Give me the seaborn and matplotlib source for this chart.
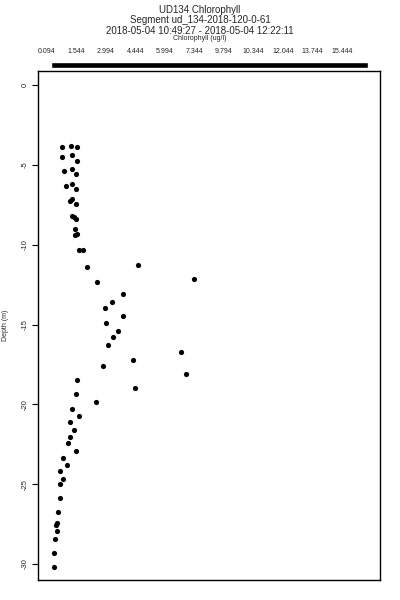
import seaborn as sns
import matplotlib.pyplot as plt
import pandas as pd
import numpy as np

# Datos (clorofila, profundidad)
chl = [0.585, 1.035, 1.335, 0.615, 1.10, 1.335, 0.715, 1.10, 1.315, 0.80,
       1.115, 1.30, 1.00, 1.085, 1.30, 1.115, 1.20, 1.285, 1.25, 1.25,
       1.335, 1.435, 1.665, 1.85, 4.415, 2.335, 7.185, 3.65, 3.10, 2.765,
       3.665, 2.80, 3.40, 3.15, 2.915, 6.565, 4.135, 2.665, 6.785, 1.35,
       4.25, 1.30, 2.30, 1.115, 1.465, 1.015, 1.215, 1.015, 0.90, 1.315,
       0.635, 0.865, 0.515, 0.635, 0.50, 0.515, 0.385, 0.335, 0.315, 0.35,
       0.25, 0.215, 0.20]
depth = [-3.87, -3.81, -3.87, -4.50, -4.41, -4.77, -5.38, -5.28, -5.59, -6.31,
         -6.18, -6.49, -7.28, -7.15, -7.44, -8.18, -8.29, -8.41, -9.02, -9.38,
         -9.33, -10.32, -10.32, -11.37, -11.27, -12.32, -12.15, -13.08, -13.56, -13.98,
         -14.48, -14.88, -15.38, -15.76, -16.29, -16.69, -17.24, -17.62, -18.10, -18.47,
         -18.98, -19.38, -19.86, -20.28, -20.73, -21.12, -21.61, -22.03, -22.45, -22.91,
         -23.33, -23.77, -24.17, -24.65, -25.01, -25.85, -26.72, -27.45, -27.58, -27.91,
         -28.44, -29.28, -30.18]
bar_labels = ["0.094", "1.544", "2.994", "4.444", "5.994", "7.344",
              "9.794", "10.344", "12.044", "13.744", "15.444"]
y_ticks = [0, -5, -10, -15, -20, -25, -30]

df = pd.DataFrame({"Chlorophyll": chl, "Depth": depth})

sns.set_theme(style="white")
plt.rcParams["font.family"] = ["Liberation Sans", "DejaVu Sans"]

fig = plt.figure(figsize=(4, 6), dpi=100)

# Grafica principal
ax = fig.add_axes([0.095, 0.0333, 0.855, 0.8484])
sns.scatterplot(data=df, x="Chlorophyll", y="Depth", color="black", s=14,
                linewidth=0, marker="o", ax=ax)
ax.set_xlim(-0.6, 16.5)
ax.set_ylim(-31.0, 0.88)
ax.set_xticks([])
ax.set_yticks(y_ticks)
ax.set_yticklabels([str(t) for t in y_ticks], rotation=90, va="center", fontsize=5.5)
ax.tick_params(axis="y", left=True, length=4, width=0.8, pad=3, color="black")
ax.set_xlabel("")
ax.set_ylabel("Depth (m)", fontsize=5)
ax.yaxis.set_label_coords(-0.085, 0.5)
for sp in ax.spines.values():
    sp.set_color("black")
    sp.set_linewidth(1.0)

# Barra de color superior (en negro)
cax = fig.add_axes([0.095, 0.8867, 0.855, 0.01])
cax.barh(0, 10.88 - 0.136, left=0.136, height=1, color="black")
cax.set_xlim(-0.305, 11.29)
cax.set_ylim(-0.5, 0.5)
cax.set_yticks([])
cax.set_xticks(range(len(bar_labels)))
cax.set_xticklabels(bar_labels, fontsize=5)
cax.xaxis.tick_top()
cax.tick_params(axis="x", top=True, bottom=False, length=0, pad=5)
for sp in cax.spines.values():
    sp.set_visible(False)

# Titulos
fig.text(0.5, 0.983, "UD134 Chlorophyll", ha="center", va="center", fontsize=7)
fig.text(0.5, 0.9667, "Segment ud_134-2018-120-0-61", ha="center", va="center", fontsize=7)
fig.text(0.5, 0.948, "2018-05-04 10:49:27 - 2018-05-04 12:22:11", ha="center", va="center", fontsize=7)
fig.text(0.5, 0.935, "Chlorophyll (ug/l)", ha="center", va="center", fontsize=5)

plt.savefig("out.png", dpi=100)
